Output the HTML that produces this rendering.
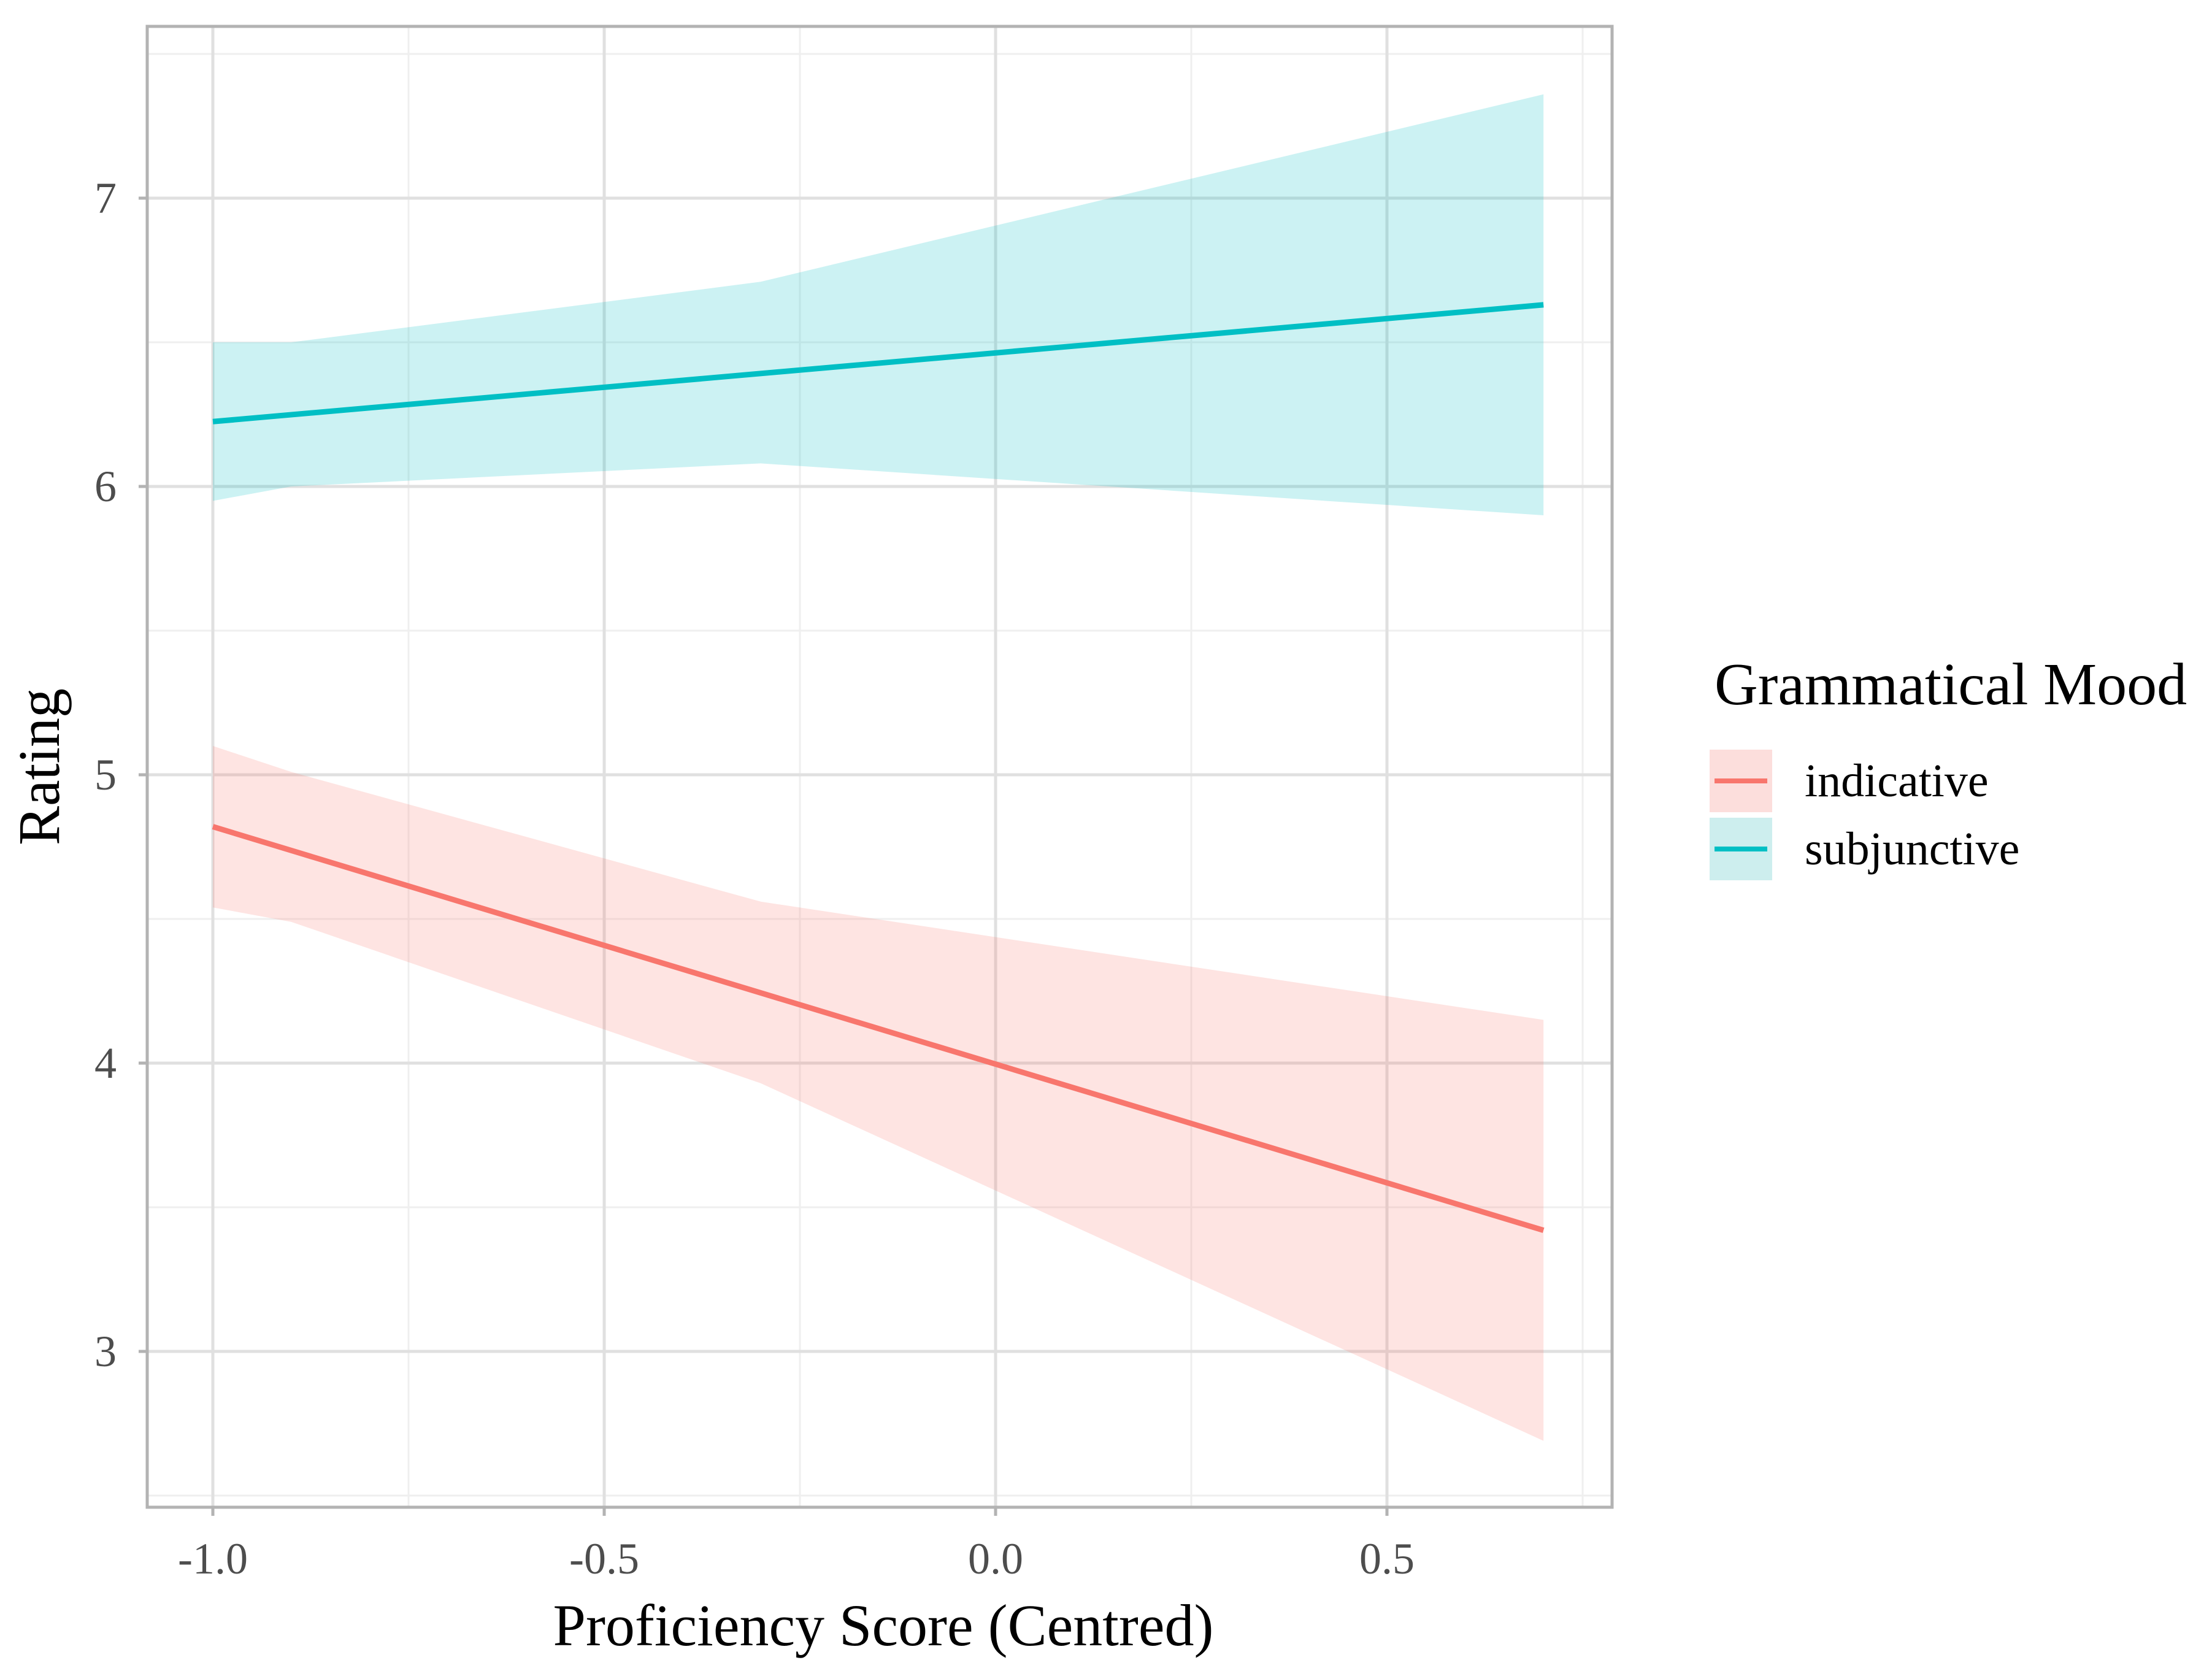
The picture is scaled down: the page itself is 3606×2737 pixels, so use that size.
<!DOCTYPE html>
<html><head><meta charset="utf-8"><style>
html,body{margin:0;padding:0;background:#fff;}
svg{display:block;font-family:"Liberation Serif",serif;}
</style></head><body>
<svg id="chart" width="3606" height="2737" viewBox="0 0 3606 2737" xmlns="http://www.w3.org/2000/svg">
<g id="grid"></g>
<g id="series"></g>
<g id="axes"></g>
<text x="1440" y="2682" font-size="96" text-anchor="middle" fill="#000">Proficiency Score (Centred)</text>
<text transform="translate(96,1250) rotate(-90)" font-size="96" text-anchor="middle" fill="#000">Rating</text>
<g>
<text x="2795" y="1148" font-size="98" fill="#000">Grammatical Mood</text>
<g>
<rect x="2787" y="1222" width="102" height="102" fill="#fcdedc"/>
<line x1="2795" y1="1273" x2="2881" y2="1273" stroke="#f8766d" stroke-width="8"/>
<text x="2942" y="1298" font-size="76" fill="#000">indicative</text>
</g>
<g>
<rect x="2787" y="1333" width="102" height="102" fill="#cdeeee"/>
<line x1="2795" y1="1384" x2="2881" y2="1384" stroke="#00bfc4" stroke-width="8"/>
<text x="2942" y="1409" font-size="76" fill="#000">subjunctive</text>
</g>
</g>
</svg>
<script>
const xTicks = [-1.0, -0.5, 0.0, 0.5];
const xTickLabels = ["-1.0", "-0.5", "0.0", "0.5"];
const yTicks = [3, 4, 5, 6, 7];
const yTickLabels = ["3", "4", "5", "6", "7"];
const lineX = [-1.0, 0.7];
const indicativeFit = [4.82, 3.42];
const subjunctiveFit = [6.225, 6.63];
const ribbonX = [-1.0, -0.9, -0.3, 0.7];
const indicativeUpper = [5.10, 5.01, 4.56, 4.15];
const indicativeLower = [4.54, 4.49, 3.93, 2.69];
const subjunctiveUpper = [6.50, 6.50, 6.71, 7.36];
const subjunctiveLower = [5.95, 6.00, 6.08, 5.90];

const PL = 240, PR = 2628, PT = 43, PB = 2457;
const sx = v => 347 + (v - (-1.0)) * 1276;
const sy = v => 793 - (v - 6) * 470;
const NS = "http://www.w3.org/2000/svg";
function mk(parent, tag, attrs) {
  const el = document.createElementNS(NS, tag);
  for (const k in attrs) el.setAttribute(k, attrs[k]);
  document.getElementById(parent).appendChild(el);
  return el;
}
for (let i = 0; i < yTicks.length + 1; i++) {
  const v = yTicks[0] - 0.5 + i;
  if (sy(v) < PT || sy(v) > PB) continue;
  const l = mk('grid', 'line', {x1: PL, x2: PR, y1: sy(v), y2: sy(v), stroke: '#efefef', 'stroke-width': 3});
  
  
}
for (let i = 0; i < xTicks.length + 1; i++) {
  const v = xTicks[0] - 0.25 + i * 0.5;
  if (sx(v) < PL || sx(v) > PR) continue;
  const l = mk('grid', 'line', {x1: sx(v), x2: sx(v), y1: PT, y2: PB, stroke: '#efefef', 'stroke-width': 3});
  
  
}
yTicks.forEach((v, i) => {
  const l = mk('grid', 'line', {x1: PL, x2: PR, y1: sy(v), y2: sy(v), stroke: '#e0e0e0', 'stroke-width': 5});
  
  
  const t = mk('axes', 'line', {x1: PL - 14, x2: PL, y1: sy(v), y2: sy(v), stroke: '#b3b3b3', 'stroke-width': 5});
  
  
  const tx = mk('axes', 'text', {x: PL - 50, y: sy(v) + 24, 'font-size': 72, 'text-anchor': 'end', fill: '#4d4d4d'});
  tx.textContent = yTickLabels[i];
  
  
});
xTicks.forEach((v, i) => {
  const l = mk('grid', 'line', {x1: sx(v), x2: sx(v), y1: PT, y2: PB, stroke: '#e0e0e0', 'stroke-width': 5});
  
  
  const t = mk('axes', 'line', {x1: sx(v), x2: sx(v), y1: PB, y2: PB + 14, stroke: '#b3b3b3', 'stroke-width': 5});
  
  
  const tx = mk('axes', 'text', {x: sx(v), y: PB + 108, 'font-size': 72, 'text-anchor': 'middle', fill: '#4d4d4d'});
  tx.textContent = xTickLabels[i];
  
  
});
const border = mk('axes', 'rect', {x: PL, y: PT, width: PR - PL, height: PB - PT, fill: 'none', stroke: '#b3b3b3', 'stroke-width': 5});



function ribbon(up, lo, color, name) {
  let pts = ribbonX.map((x, i) => sx(x) + ',' + sy(up[i]));
  for (let i = ribbonX.length - 1; i >= 0; i--) pts.push(sx(ribbonX[i]) + ',' + sy(lo[i]));
  const p = mk('series', 'polygon', {points: pts.join(' '), fill: color, 'fill-opacity': 0.2});
  
  
}
function line(ys, color, name) {
  const p = mk('series', 'polyline', {points: lineX.map((x, i) => sx(x) + ',' + sy(ys[i])).join(' '), fill: 'none', stroke: color, 'stroke-width': 9});
  
  
}
ribbon(subjunctiveUpper, subjunctiveLower, '#00bfc4', 'subjunctive-ribbon');
ribbon(indicativeUpper, indicativeLower, '#f8766d', 'indicative-ribbon');
line(subjunctiveFit, '#00bfc4', 'subjunctive-line');
line(indicativeFit, '#f8766d', 'indicative-line');
</script>
</body></html>
